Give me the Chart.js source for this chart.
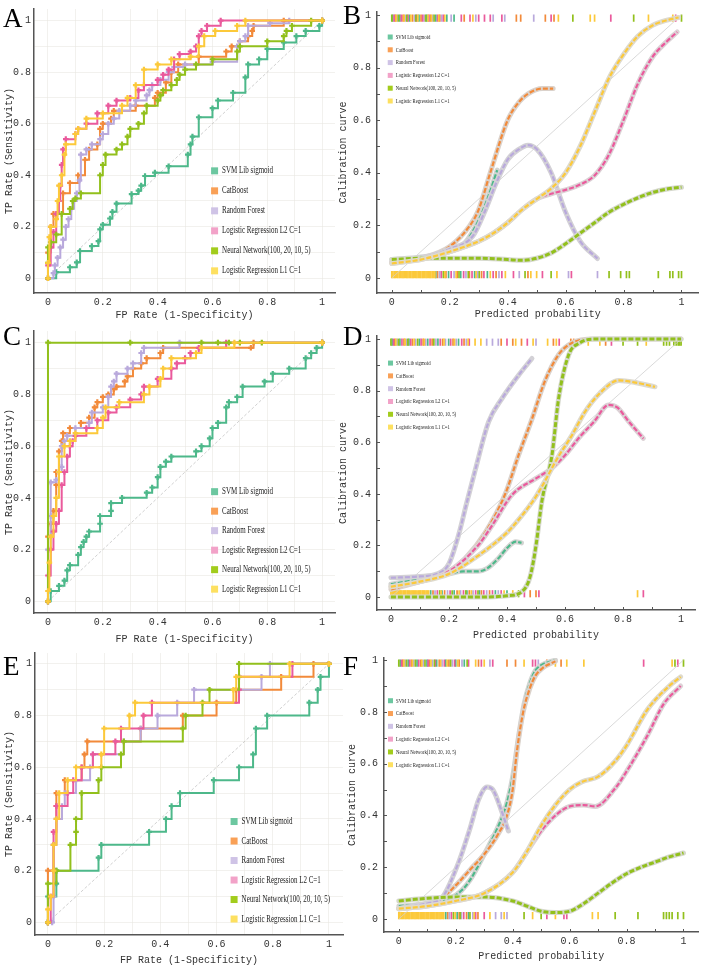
<!DOCTYPE html>
<html>
<head>
<meta charset="utf-8">
<script src="https://cdn.jsdelivr.net/npm/chart.js@4.4.1/dist/chart.umd.min.js"></script>
<style>
  body { margin: 0; background: #fff; width: 704px; height: 968px; position: relative; overflow: hidden; }
  canvas { position: absolute; }
  .tag { position: absolute; font-family: "Liberation Serif", serif; font-size: 27px; line-height: 1; color: #000; z-index: 5; }
</style>
</head>
<body>
<canvas id="cA" width="352" height="322" style="left:0;top:0"></canvas>
<canvas id="cB" width="368" height="322" style="left:336px;top:0"></canvas>
<canvas id="cC" width="352" height="322" style="left:0;top:322px"></canvas>
<canvas id="cD" width="368" height="322" style="left:336px;top:322px"></canvas>
<canvas id="cE" width="352" height="324" style="left:0;top:644px"></canvas>
<canvas id="cF" width="368" height="324" style="left:336px;top:644px"></canvas>
<div class="tag" style="left:3px;top:5px">A</div>
<div class="tag" style="left:343px;top:2px">B</div>
<div class="tag" style="left:3px;top:323px">C</div>
<div class="tag" style="left:343px;top:323px">D</div>
<div class="tag" style="left:3px;top:653px">E</div>
<div class="tag" style="left:343px;top:653px">F</div>
<script>
// models, in drawing order
const modelNames = ["SVM Lib sigmoid", "CatBoost", "Random Forest", "Logistic Regression L2 C=1",
  "Neural Network(100, 20, 10, 5)", "Logistic Regression L1 C=1"];
const lineColors = ["#4db88a", "#f28a3a", "#b9a9dc", "#ea5a9c", "#92c01c", "#fcc93a"];
const legendColors = ["#6cc7a0", "#f9a056", "#cfc3e6", "#f2a2c8", "#a2cc1c", "#fde060"];
const bandColors = ["#d3d4d2", "#dbd2cb", "#d3d1d6", "#dcd2d6", "#d6d9cd", "#dedacd"];

const tickVals = [0, 0.1, 0.2, 0.3, 0.4, 0.5, 0.6, 0.7, 0.8, 0.9, 1];
const tickLabels = ["0", "", "0.2", "", "0.4", "", "0.6", "", "0.8", "", "1"];

// ---- ROC curves: [fpr, tpr] at each rise ----
const rocA_svm = [[0,0],[0.03,0.024],[0.08,0.043],[0.105,0.062],[0.117,0.106],[0.16,0.125],[0.184,0.144],[0.19,0.19],[0.2,0.208],[0.226,0.232],[0.235,0.258],[0.25,0.29],[0.305,0.327],[0.33,0.34],[0.34,0.36],[0.354,0.397],[0.39,0.41],[0.44,0.435],[0.51,0.48],[0.52,0.52],[0.527,0.55],[0.55,0.625],[0.6,0.66],[0.62,0.69],[0.675,0.72],[0.72,0.78],[0.73,0.83],[0.77,0.85],[0.8,0.89],[0.86,0.915],[0.906,0.94],[0.94,0.96],[0.99,0.98],[1,1]];
const rocA_cat = [[0,0],[0,0.1],[0.01,0.2],[0.02,0.25],[0.055,0.33],[0.08,0.37],[0.11,0.4],[0.135,0.46],[0.15,0.5],[0.18,0.52],[0.19,0.58],[0.2,0.6],[0.23,0.62],[0.24,0.65],[0.32,0.67],[0.39,0.7],[0.4,0.72],[0.43,0.76],[0.45,0.8],[0.475,0.83],[0.55,0.86],[0.65,0.88],[0.67,0.9],[0.7,0.92],[0.73,0.94],[0.745,0.96],[0.75,0.98],[0.86,1],[1,1]];
const rocA_rf = [[0,0],[0.02,0.02],[0.025,0.05],[0.035,0.08],[0.045,0.12],[0.055,0.15],[0.065,0.2],[0.075,0.23],[0.085,0.27],[0.095,0.3],[0.105,0.33],[0.115,0.38],[0.12,0.48],[0.14,0.5],[0.16,0.52],[0.19,0.54],[0.2,0.56],[0.22,0.6],[0.24,0.62],[0.26,0.65],[0.3,0.67],[0.32,0.69],[0.36,0.71],[0.37,0.73],[0.38,0.75],[0.41,0.77],[0.44,0.8],[0.46,0.82],[0.5,0.83],[0.6,0.84],[0.69,0.9],[0.7,0.92],[0.72,0.94],[0.73,0.98],[0.81,0.99],[0.88,1],[1,1]];
const rocA_l2 = [[0,0],[0,0.05],[0.01,0.12],[0.02,0.18],[0.03,0.25],[0.04,0.3],[0.045,0.36],[0.05,0.44],[0.055,0.5],[0.065,0.54],[0.1,0.56],[0.11,0.58],[0.14,0.6],[0.18,0.64],[0.22,0.67],[0.25,0.69],[0.3,0.7],[0.33,0.73],[0.35,0.75],[0.4,0.77],[0.42,0.79],[0.44,0.81],[0.46,0.85],[0.48,0.87],[0.52,0.88],[0.54,0.9],[0.55,0.94],[0.56,0.96],[0.58,0.98],[0.63,1],[1,1]];
const rocA_nn = [[0,0],[0,0.06],[0,0.12],[0.01,0.14],[0.03,0.17],[0.05,0.25],[0.08,0.27],[0.09,0.3],[0.1,0.31],[0.12,0.33],[0.19,0.4],[0.2,0.44],[0.21,0.48],[0.25,0.5],[0.27,0.52],[0.29,0.55],[0.3,0.58],[0.33,0.6],[0.35,0.64],[0.36,0.67],[0.4,0.69],[0.41,0.71],[0.42,0.73],[0.45,0.75],[0.47,0.77],[0.48,0.79],[0.5,0.81],[0.54,0.83],[0.6,0.85],[0.69,0.88],[0.7,0.9],[0.8,0.92],[0.86,0.94],[0.87,0.96],[0.89,0.98],[0.96,1],[1,1]];
const rocA_l1 = [[0,0],[0,0.06],[0.005,0.16],[0.01,0.2],[0.03,0.23],[0.035,0.3],[0.04,0.36],[0.05,0.4],[0.06,0.48],[0.065,0.52],[0.1,0.56],[0.11,0.58],[0.14,0.62],[0.2,0.64],[0.27,0.67],[0.29,0.7],[0.32,0.75],[0.35,0.81],[0.4,0.83],[0.45,0.85],[0.52,0.86],[0.55,0.9],[0.57,0.94],[0.61,0.96],[0.69,0.98],[0.72,1],[1,1]];

const rocC_svm = [[0,0],[0.01,0.04],[0.04,0.06],[0.06,0.08],[0.07,0.12],[0.08,0.14],[0.11,0.18],[0.12,0.21],[0.13,0.23],[0.14,0.25],[0.15,0.27],[0.19,0.3],[0.19,0.33],[0.23,0.35],[0.23,0.38],[0.27,0.4],[0.36,0.42],[0.38,0.44],[0.4,0.48],[0.41,0.52],[0.43,0.54],[0.45,0.56],[0.54,0.58],[0.56,0.6],[0.59,0.63],[0.6,0.67],[0.62,0.69],[0.65,0.75],[0.66,0.77],[0.69,0.79],[0.71,0.83],[0.79,0.85],[0.82,0.88],[0.88,0.9],[0.94,0.94],[0.96,0.96],[0.98,0.98],[1,1]];
const rocC_cat = [[0,0],[0,0.25],[0.01,0.3],[0.02,0.35],[0.03,0.45],[0.03,0.5],[0.04,0.58],[0.05,0.62],[0.055,0.65],[0.08,0.67],[0.12,0.69],[0.15,0.71],[0.17,0.75],[0.18,0.77],[0.2,0.79],[0.22,0.8],[0.24,0.82],[0.25,0.83],[0.28,0.85],[0.29,0.87],[0.31,0.9],[0.34,0.92],[0.36,0.94],[0.41,0.96],[0.42,0.98],[0.74,0.98],[0.75,1],[1,1]];
const rocC_rf = [[0,0],[0,0.2],[0.01,0.33],[0.01,0.46],[0.03,0.47],[0.04,0.5],[0.05,0.52],[0.05,0.6],[0.06,0.62],[0.07,0.64],[0.1,0.67],[0.15,0.69],[0.16,0.73],[0.2,0.75],[0.22,0.79],[0.23,0.83],[0.24,0.85],[0.25,0.88],[0.29,0.9],[0.31,0.92],[0.34,0.96],[0.35,0.98],[0.48,1],[1,1]];
const rocC_l2 = [[0,0],[0,0.1],[0.01,0.2],[0.02,0.27],[0.03,0.3],[0.04,0.35],[0.05,0.45],[0.06,0.5],[0.07,0.56],[0.08,0.6],[0.09,0.62],[0.1,0.64],[0.14,0.67],[0.18,0.7],[0.22,0.73],[0.25,0.75],[0.3,0.78],[0.34,0.8],[0.35,0.83],[0.4,0.86],[0.45,0.9],[0.47,0.92],[0.5,0.94],[0.52,0.96],[0.55,0.98],[0.65,1],[1,1]];
const rocC_nn = [[0,0],[0,1],[0.3,1],[0.56,1],[0.62,1],[0.66,1],[0.7,1],[0.78,1],[1,1]];
const rocC_l1 = [[0,0],[0,0.04],[0.005,0.15],[0.01,0.25],[0.02,0.33],[0.03,0.4],[0.04,0.5],[0.04,0.56],[0.06,0.6],[0.08,0.62],[0.1,0.65],[0.18,0.67],[0.2,0.71],[0.21,0.75],[0.26,0.77],[0.35,0.8],[0.37,0.83],[0.41,0.86],[0.42,0.9],[0.45,0.94],[0.54,0.96],[0.56,0.98],[0.68,1],[1,1]];

const rocE_svm = [[0,0],[0,0.1],[0.03,0.15],[0.03,0.2],[0.18,0.25],[0.19,0.3],[0.36,0.35],[0.42,0.4],[0.44,0.45],[0.47,0.5],[0.59,0.55],[0.68,0.6],[0.73,0.65],[0.74,0.75],[0.78,0.8],[0.93,0.85],[0.96,0.9],[0.97,0.95],[1,1]];
const rocE_cat = [[0,0],[0,0.2],[0.02,0.3],[0.03,0.45],[0.03,0.5],[0.06,0.55],[0.12,0.6],[0.13,0.65],[0.14,0.7],[0.33,0.75],[0.48,0.8],[0.6,0.85],[0.67,0.9],[0.83,0.95],[0.945,1],[1,1]];
const rocE_rf = [[0,0],[0.015,0],[0.02,0.1],[0.02,0.3],[0.03,0.4],[0.05,0.45],[0.06,0.5],[0.1,0.55],[0.15,0.6],[0.16,0.65],[0.27,0.7],[0.33,0.75],[0.39,0.8],[0.46,0.85],[0.52,0.9],[0.76,0.95],[0.79,1],[1,1]];
const rocE_l2 = [[0,0],[0.01,0.1],[0.02,0.2],[0.02,0.35],[0.03,0.45],[0.07,0.5],[0.09,0.55],[0.12,0.6],[0.16,0.65],[0.24,0.7],[0.26,0.75],[0.34,0.8],[0.37,0.85],[0.68,0.9],[0.68,0.95],[0.87,1],[1,1]];
const rocE_nn = [[0,0],[0,0.15],[0.03,0.2],[0.08,0.3],[0.1,0.35],[0.1,0.4],[0.12,0.5],[0.18,0.55],[0.19,0.6],[0.26,0.65],[0.27,0.7],[0.48,0.75],[0.49,0.8],[0.55,0.85],[0.575,0.9],[0.68,0.95],[0.68,1],[1,1]];
const rocE_l1 = [[0,0],[0,0.05],[0.01,0.1],[0.02,0.2],[0.02,0.3],[0.03,0.4],[0.04,0.5],[0.07,0.55],[0.1,0.6],[0.19,0.65],[0.2,0.75],[0.29,0.8],[0.31,0.85],[0.66,0.9],[0.67,0.95],[0.86,1],[1,1]];

// ---- calibration curves: [mean predicted, fraction positive] ----
const calB_svm = [[0,0.07],[0.1,0.08],[0.2,0.1],[0.25,0.13],[0.3,0.22],[0.33,0.3],[0.364,0.41]];
const calB_cat = [[0,0.055],[0.1,0.075],[0.2,0.12],[0.27,0.2],[0.3,0.26],[0.34,0.4],[0.4,0.6],[0.44,0.67],[0.47,0.7],[0.52,0.72],[0.557,0.72]];
const calB_rf = [[0,0.06],[0.1,0.075],[0.2,0.11],[0.28,0.16],[0.32,0.25],[0.36,0.36],[0.4,0.45],[0.44,0.49],[0.47,0.505],[0.5,0.49],[0.55,0.4],[0.6,0.25],[0.65,0.14],[0.71,0.074]];
const calB_l2 = [[0,0.06],[0.1,0.07],[0.2,0.1],[0.3,0.14],[0.35,0.17],[0.4,0.21],[0.45,0.26],[0.5,0.3],[0.55,0.32],[0.6,0.335],[0.65,0.355],[0.7,0.39],[0.75,0.47],[0.8,0.6],[0.85,0.74],[0.9,0.84],[0.95,0.9],[0.985,0.935]];
const calB_nn = [[0,0.07],[0.1,0.075],[0.2,0.075],[0.3,0.075],[0.4,0.07],[0.45,0.067],[0.5,0.075],[0.55,0.095],[0.6,0.13],[0.65,0.17],[0.7,0.21],[0.75,0.25],[0.8,0.28],[0.85,0.305],[0.9,0.325],[0.95,0.338],[1,0.345]];
const calB_l1 = [[0,0.055],[0.1,0.07],[0.2,0.1],[0.3,0.14],[0.35,0.17],[0.4,0.21],[0.45,0.26],[0.5,0.3],[0.55,0.34],[0.6,0.4],[0.65,0.5],[0.7,0.63],[0.75,0.76],[0.8,0.85],[0.85,0.92],[0.9,0.96],[0.95,0.98],[0.99,0.99]];

const calD_svm = [[0,0.05],[0.1,0.07],[0.2,0.09],[0.25,0.1],[0.3,0.1],[0.33,0.11],[0.37,0.15],[0.4,0.19],[0.43,0.215],[0.45,0.21]];
const calD_cat = [[0,0.03],[0.1,0.06],[0.2,0.1],[0.256,0.15],[0.325,0.25],[0.394,0.4],[0.44,0.55],[0.486,0.69],[0.53,0.835],[0.578,0.94],[0.624,0.985],[0.7,1],[1,1]];
const calD_rf = [[0,0.075],[0.1,0.08],[0.16,0.09],[0.2,0.13],[0.233,0.24],[0.26,0.36],[0.29,0.49],[0.337,0.68],[0.383,0.77],[0.44,0.86],[0.486,0.925]];
const calD_l2 = [[0,0.04],[0.1,0.06],[0.2,0.1],[0.3,0.2],[0.35,0.28],[0.417,0.396],[0.5,0.46],[0.555,0.5],[0.6,0.55],[0.65,0.62],[0.7,0.68],[0.75,0.745],[0.78,0.735],[0.82,0.68],[0.87,0.615]];
const calD_nn = [[0,0],[0.3,0],[0.4,0.005],[0.45,0.02],[0.48,0.08],[0.5,0.2],[0.52,0.37],[0.555,0.55],[0.578,0.77],[0.613,0.94],[0.65,0.985],[0.7,1],[1,1]];
const calD_l1 = [[0,0.04],[0.1,0.06],[0.2,0.09],[0.3,0.16],[0.4,0.25],[0.44,0.3],[0.5,0.39],[0.58,0.55],[0.62,0.62],[0.67,0.72],[0.72,0.79],[0.785,0.84],[0.85,0.83],[0.91,0.815]];

const calF_svm = [[0,0.05],[0.1,0.06],[0.18,0.08],[0.22,0.11],[0.25,0.15],[0.3,0.25],[0.35,0.36],[0.38,0.45],[0.4,0.55],[0.42,0.7],[0.44,0.83],[0.46,0.91],[0.48,0.96],[0.5,0.98],[0.55,1]];
const calF_cat = [[0,0.04],[0.1,0.06],[0.15,0.08],[0.2,0.13],[0.25,0.19],[0.3,0.25],[0.35,0.33],[0.38,0.4],[0.4,0.5],[0.414,0.64],[0.437,0.8],[0.46,0.89],[0.48,0.94],[0.506,0.97],[0.55,0.995]];
const calF_rf = [[0,0.04],[0.1,0.06],[0.15,0.08],[0.207,0.21],[0.25,0.35],[0.28,0.46],[0.31,0.51],[0.33,0.5],[0.36,0.42],[0.385,0.34]];
const calF_l2 = [[0,0.04],[0.1,0.05],[0.2,0.07],[0.3,0.1],[0.4,0.18],[0.45,0.26],[0.5,0.34],[0.55,0.4],[0.6,0.435],[0.65,0.44],[0.69,0.435],[0.76,0.505],[0.8,0.57],[0.874,0.71],[0.93,0.83],[0.99,0.9]];
const calF_nn = [[0,0.07],[0.1,0.08],[0.2,0.085],[0.3,0.085],[0.4,0.07],[0.45,0.05],[0.5,0.03],[0.55,0.025],[0.6,0.03],[0.65,0.06],[0.7,0.1],[0.75,0.14],[0.8,0.175],[0.85,0.2],[0.9,0.22],[0.95,0.24],[1,0.255]];
const calF_l1 = [[0,0.04],[0.1,0.05],[0.2,0.07],[0.3,0.1],[0.4,0.18],[0.45,0.26],[0.5,0.36],[0.55,0.44],[0.6,0.5],[0.644,0.53],[0.7,0.55],[0.76,0.61],[0.8,0.67],[0.874,0.81],[0.95,0.9],[0.99,0.935]];

// ---- rug marks: predicted probabilities of positives (top) and negatives (bottom), per model ----
const rugB_top = [
  [0.003,0.028,0.061,0.094,0.121,0.152,0.19,0.215],
  [0.012,0.039,0.072,0.101,0.133,0.166,0.25,0.43,0.445,0.53,0.56],
  [0.019,0.047,0.079,0.113,0.141,0.172,0.205,0.29,0.35,0.39,0.49],
  [0.008,0.033,0.056,0.086,0.107,0.128,0.158,0.178,0.24,0.27,0.3,0.32,0.34,0.38,0.55,0.756,0.98],
  [0,0.023,0.052,0.083,0.117,0.146,0.625,0.835,1],
  [0.015,0.043,0.066,0.09,0.125,0.137,0.162,0.183,0.28,0.575,0.685,0.7,0.886,0.97]];
const rugB_bottom = [
  [0.152,0.196,0.238,0.286,0.33],
  [0.158,0.187,0.226,0.268,0.31,0.36,0.47],
  [0.165,0.215,0.256,0.297,0.37,0.44,0.61,0.71],
  [0.171,0.205,0.248,0.277,0.318,0.35,0.38,0.42,0.52,0.62],
  [0.178,0.232,0.264,0.302,0.46,0.55,0.75,0.79,0.81,0.82,0.92,0.96,0.97,0.99,1],
  [0,0.004,0.009,0.012,0.017,0.021,0.026,0.03,0.035,0.039,0.043,0.048,0.052,0.056,0.061,0.065,0.07,0.074,0.078,0.083,0.087,0.092,0.096,0.1,0.105,0.109,0.113,0.118,0.122,0.127,0.131,0.135,0.14,0.144,0.149,0.183,0.222,0.291,0.34,0.392,0.48,0.5,0.57]];
const rugD_top = [
  [0.004,0.031,0.062,0.098,0.127,0.162,0.199,0.233],
  [0.013,0.045,0.074,0.111,0.142,0.178,0.214,0.252,0.38,0.42,0.45,0.56,0.62,0.63,0.74],
  [0.021,0.054,0.085,0.12,0.155,0.188,0.225,0.26,0.33,0.35,0.37,0.5],
  [0.009,0.038,0.068,0.104,0.135,0.17,0.206,0.244,0.27,0.4,0.47,0.58,0.76],
  [0,0.026,0.058,0.092,0.148,0.8,0.85,0.94,0.95,0.96,0.975,0.983,0.99,0.995,1],
  [0.017,0.049,0.08,0.115,0.183,0.219,0.266,0.29,0.31,0.43,0.49,0.54,0.57,0.68,0.72,0.88]];
const rugD_bottom = [
  [0.137,0.176,0.218,0.262,0.305,0.36,0.4],
  [0.145,0.185,0.228,0.27,0.312,0.34,0.48,0.5],
  [0.152,0.195,0.24,0.283,0.33,0.37],
  [0.16,0.204,0.25,0.292,0.32,0.35,0.38,0.46,0.51,0.87],
  [0.168,0.211,0.258,0.3,0.44],
  [0,0.004,0.008,0.013,0.017,0.021,0.025,0.03,0.034,0.038,0.043,0.047,0.051,0.056,0.06,0.064,0.069,0.073,0.077,0.082,0.086,0.09,0.095,0.099,0.103,0.108,0.112,0.116,0.121,0.125,0.13,0.173,0.235,0.277,0.39,0.42,0.85]];
const rugF_top = [
  [0.005,0.033,0.064,0.099,0.133,0.165,0.2,0.23],
  [0.014,0.044,0.077,0.108,0.142,0.176,0.212,0.28,0.38,0.41,0.52,0.57],
  [0.022,0.052,0.086,0.118,0.152,0.188,0.222,0.32,0.49],
  [0.01,0.038,0.07,0.103,0.128,0.16,0.196,0.245,0.29,0.33,0.47,0.48,0.86,0.98],
  [0,0.027,0.058,0.092,0.125,0.182,0.24,0.97,1],
  [0.018,0.048,0.081,0.113,0.147,0.17,0.207,0.27,0.3,0.44,0.55,0.59,0.65,0.96]];
const rugF_bottom = [
  [0.165,0.205,0.245],
  [0.172,0.212,0.238,0.278],
  [0.178,0.22,0.26,0.34,0.36,0.38],
  [0.185,0.228,0.27,0.3,0.52,0.58,0.59],
  [0.192,0.216,0.25,0.44,0.5,0.76,0.84,0.93,0.94,0.95,0.96,0.98,1],
  [0,0.004,0.009,0.013,0.017,0.022,0.026,0.031,0.035,0.039,0.044,0.048,0.053,0.057,0.061,0.066,0.07,0.075,0.079,0.083,0.088,0.092,0.097,0.101,0.105,0.11,0.114,0.119,0.123,0.127,0.132,0.136,0.141,0.145,0.149,0.154,0.158,0.198,0.265,0.32,0.37,0.47,0.55,0.68,0.7]];

const monoFont = { family: "'Liberation Mono', 'DejaVu Sans Mono', monospace", size: 10 };

// legend drawn inside the plot area
const boxLegend = {
  id: "boxLegend",
  afterDatasetsDraw(chart, args, o) {
    if (!o || o.x === undefined) return;
    const { ctx, scales: { x, y } } = chart;
    ctx.save();
    ctx.font = o.size + "px 'Liberation Serif', serif";
    ctx.textBaseline = "middle";
    modelNames.forEach((name, i) => {
      const px = x.getPixelForValue(o.x);
      const py = y.getPixelForValue(o.y) + i * o.dy;
      ctx.fillStyle = legendColors[i];
      ctx.fillRect(px, py - o.box / 2, o.box, o.box);
      ctx.fillStyle = "#222";
      ctx.save();
      ctx.translate(px + o.box + o.gap, py);
      ctx.scale(o.squeeze, 1);
      ctx.fillText(name, 0, 0);
      ctx.restore();
    });
    ctx.restore();
  }
};

// short inward tick marks on calibration axes
const innerTicks = {
  id: "innerTicks",
  afterDraw(chart, args, o) {
    if (!o || !o.on) return;
    const { ctx, chartArea: a, scales: { x, y } } = chart;
    ctx.save();
    ctx.strokeStyle = "#555";
    ctx.lineWidth = 1;
    tickVals.forEach(v => {
      const px = Math.round(x.getPixelForValue(v)) + 0.5;
      const py = Math.round(y.getPixelForValue(v)) + 0.5;
      ctx.beginPath();
      ctx.moveTo(px, a.bottom); ctx.lineTo(px, a.bottom - 3);
      ctx.moveTo(a.left, py); ctx.lineTo(a.left + 3, py);
      ctx.stroke();
    });
    ctx.restore();
  }
};

function axes(p, xTitle, yTitle, grid) {
  const common = {
    type: "linear",
    afterBuildTicks: s => { s.ticks = tickVals.map(v => ({ value: v })); },
    ticks: { callback: (v, i) => tickLabels[i], autoSkip: false, maxRotation: 0, font: monoFont, color: "#333" },
    grid: grid ? { color: "rgba(232,230,224,0.55)", drawTicks: false } : { display: false, drawTicks: false },
    border: { color: "#555", width: 1.5 }
  };
  return {
    x: { ...common, min: p.x[0], max: p.x[1], afterFit: s => { s.height = p.xh; },
      ticks: { ...common.ticks, padding: 3 },
      title: { display: true, text: xTitle, font: { ...monoFont, lineHeight: 1 }, color: "#333", padding: { top: 0, bottom: p.xt } } },
    y: { ...common, min: p.y[0], max: p.y[1], afterFit: s => { s.width = p.yw; },
      ticks: { ...common.ticks, padding: p.yp },
      title: { display: true, text: yTitle, font: { ...monoFont, lineHeight: 1 }, color: "#333", padding: { top: p.yt, bottom: 0 } } }
  };
}

function rocChart(id, curves, p, leg) {
  const datasets = curves.map((pts, i) => ({
    data: pts.map(q => ({ x: q[0], y: q[1] })),
    order: 10 - i,
    borderColor: lineColors[i], backgroundColor: lineColors[i],
    borderWidth: 2, stepped: "before",
    pointStyle: "cross", pointRadius: 2.8, pointBorderWidth: 2.2, pointBorderColor: lineColors[i]
  }));
  datasets.push({ data: [{ x: 0, y: 0 }, { x: 1, y: 1 }], order: 50, borderColor: "#c4c4c4",
    borderWidth: 0.8, borderDash: [3, 2], pointRadius: 0 });
  new Chart(document.getElementById(id), {
    type: "line",
    data: { datasets },
    options: {
      responsive: false, animation: false,
      layout: { padding: p.pad },
      plugins: { legend: { display: false }, tooltip: { enabled: false }, boxLegend: leg, innerTicks: { on: false } },
      scales: axes(p, "FP Rate (1-Specificity)", "TP Rate (Sensitivity)", true)
    },
    plugins: [boxLegend, innerTicks]
  });
}

function calChart(id, curves, rugTop, rugBottom, p, leg) {
  const datasets = [];
  const rug = (xs, i, yPos) => ({
    data: xs.map(v => ({ x: v, y: yPos })), order: 200 - i, showLine: false,
    pointStyle: "line", rotation: 90, pointRadius: 3.6, pointBorderWidth: 1.7,
    pointBorderColor: lineColors[i], pointBackgroundColor: lineColors[i]
  });
  rugTop.forEach((xs, i) => datasets.push(rug(xs, i, 0.988)));
  rugBottom.forEach((xs, i) => datasets.push(rug(xs, i, 0.013)));
  datasets.push({ data: [{ x: 0, y: 0 }, { x: 1, y: 1 }], order: 100, borderColor: "#cfcfcf",
    borderWidth: 0.8, pointRadius: 0 });
  curves.forEach((pts, i) => {
    const d = pts.map(q => ({ x: q[0], y: q[1] }));
    datasets.push({ data: d, order: 2 * (10 - i) + 1, borderColor: bandColors[i], borderWidth: 5,
      cubicInterpolationMode: "monotone", pointRadius: 0, borderCapStyle: "round" });
    datasets.push({ data: d, order: 2 * (10 - i), borderColor: lineColors[i], borderWidth: i === 4 ? 3 : 2.2,
      borderDash: [5, 2], cubicInterpolationMode: "monotone", pointRadius: 0 });
  });
  new Chart(document.getElementById(id), {
    type: "line",
    data: { datasets },
    options: {
      responsive: false, animation: false,
      layout: { padding: p.pad },
      plugins: { legend: { display: false }, tooltip: { enabled: false }, boxLegend: leg, innerTicks: { on: true } },
      scales: axes(p, "Predicted probability", "Calibration curve", false)
    },
    plugins: [boxLegend, innerTicks]
  });
}

const rocLeg = { size: 10, box: 7, gap: 4, squeeze: 0.7 };
const calLeg = { size: 7, box: 5, gap: 3, squeeze: 0.68 };

rocChart("cA", [rocA_svm, rocA_cat, rocA_rf, rocA_l2, rocA_nn, rocA_l1],
  { pad: { left: 0, top: 2, right: 17, bottom: 0 }, x: [-0.051, 1.047], y: [-0.057, 1.045], xh: 29, yw: 34, xt: 2, yt: 4, yp: 3 },
  { ...rocLeg, x: 0.595, y: 0.417, dy: 20 });
calChart("cB", [calB_svm, calB_cat, calB_rf, calB_l2, calB_nn, calB_l1], rugB_top, rugB_bottom,
  { pad: { left: 0, top: 12, right: 2, bottom: 0 }, x: [-0.051, 1.058], y: [-0.057, 1.011], xh: 29, yw: 41, xt: 3, yt: 2, yp: 6 },
  { ...calLeg, x: -0.014, y: 0.916, dy: 12.8 });
rocChart("cC", [rocC_svm, rocC_cat, rocC_rf, rocC_l2, rocC_nn, rocC_l1],
  { pad: { left: 0, top: 3, right: 17, bottom: 0 }, x: [-0.051, 1.047], y: [-0.045, 1.045], xh: 31, yw: 34, xt: 0, yt: 4, yp: 3 },
  { ...rocLeg, x: 0.595, y: 0.424, dy: 19.5 });
calChart("cD", [calD_svm, calD_cat, calD_rf, calD_l2, calD_nn, calD_l1], rugD_top, rugD_bottom,
  { pad: { left: 0, top: 14, right: 9, bottom: 0 }, x: [-0.048, 1.048], y: [-0.05, 1.012], xh: 34, yw: 41, xt: 4, yt: 2, yp: 6 },
  { ...calLeg, x: -0.01, y: 0.907, dy: 12.8 });
rocChart("cE", [rocE_svm, rocE_cat, rocE_rf, rocE_l2, rocE_nn, rocE_l1],
  { pad: { left: 0, top: 3, right: 9, bottom: 0 }, x: [-0.046, 1.05], y: [-0.049, 1.042], xh: 33, yw: 35, xt: 3, yt: 4, yp: 3 },
  { ...rocLeg, x: 0.65, y: 0.39, dy: 19.5 });
calChart("cF", [calF_svm, calF_cat, calF_rf, calF_l2, calF_nn, calF_l1], rugF_top, rugF_bottom,
  { pad: { left: 9, top: 14, right: 0, bottom: 0 }, x: [-0.052, 1.052], y: [-0.05, 1.008], xh: 36, yw: 39, xt: 7, yt: 2, yp: 6 },
  { ...calLeg, x: -0.038, y: 0.843, dy: 12.8 });
</script>
</body>
</html>
